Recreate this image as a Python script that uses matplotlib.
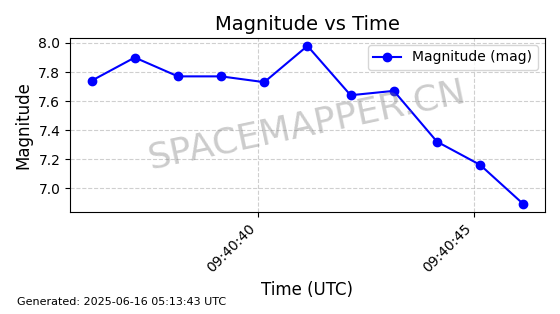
import matplotlib

matplotlib.use("Agg")
import matplotlib.pyplot as plt
import matplotlib.dates as mdates
import pandas as pd

times = pd.to_datetime([
    "2025-06-16 09:40:36.14", "2025-06-16 09:40:37.14", "2025-06-16 09:40:38.14",
    "2025-06-16 09:40:39.14", "2025-06-16 09:40:40.14", "2025-06-16 09:40:41.14",
    "2025-06-16 09:40:42.14", "2025-06-16 09:40:43.14", "2025-06-16 09:40:44.14",
    "2025-06-16 09:40:45.14", "2025-06-16 09:40:46.14",
])
magnitudes = [7.74, 7.90, 7.77, 7.77, 7.73, 7.98, 7.64, 7.67, 7.32, 7.16, 6.89]

fig, ax = plt.subplots(figsize=(5.6, 3.14), dpi=100)
fig.subplots_adjust(left=0.125, right=0.973, top=0.879, bottom=0.325)

ax.plot(times, magnitudes, "o-", color="blue", markersize=6, label="Magnitude (mag)")
ax.set_title("Magnitude vs Time", fontsize=14)
ax.set_xlabel("Time (UTC)", fontsize=12)
ax.set_ylabel("Magnitude", fontsize=12)
ax.grid(True, linestyle="--", alpha=0.6)
ax.legend(loc="upper right")

ax.xaxis.set_major_locator(mdates.SecondLocator(bysecond=range(0, 60, 5)))
ax.xaxis.set_major_formatter(mdates.DateFormatter("%H:%M:%S"))
plt.setp(ax.get_xticklabels(), rotation=45, ha="right")

ax.text(0.5, 0.5, "SPACEMAPPER.CN", transform=ax.transAxes, fontsize=26,
        color="gray", alpha=0.4, ha="center", va="center", rotation=12)

fig.text(0.03, 0.03, "Generated: 2025-06-16 05:13:43 UTC", fontsize=8)

fig.savefig("out.png", dpi=100)
